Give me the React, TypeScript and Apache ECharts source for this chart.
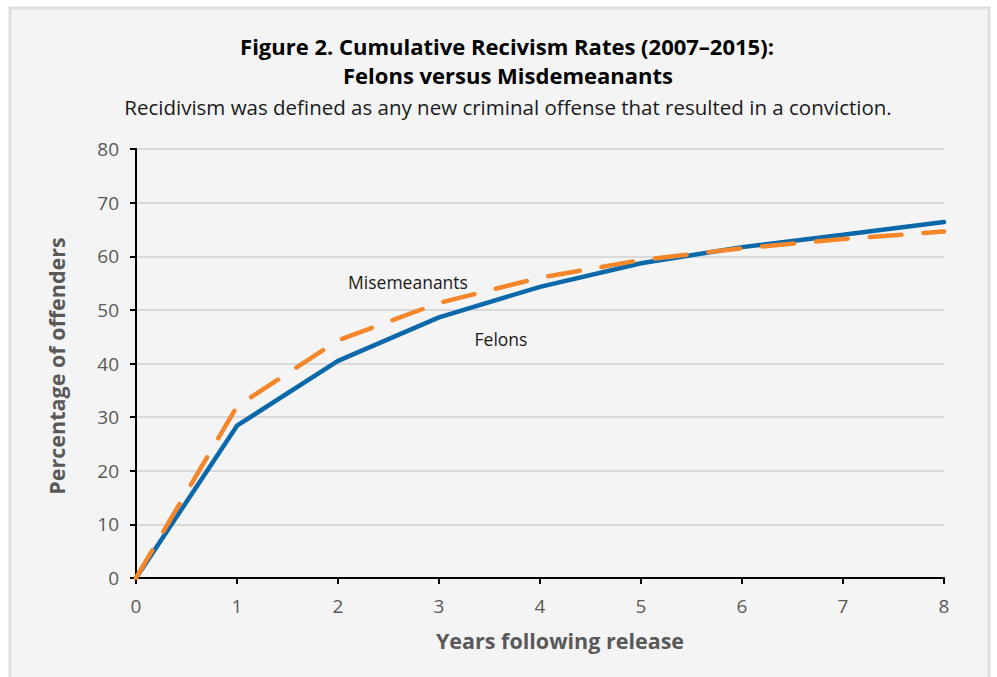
import React, { useEffect, useRef } from "react";
import * as echarts from "echarts";

const years = [0, 1, 2, 3, 4, 5, 6, 7, 8];
const felons = [0, 28.4, 40.5, 48.6, 54.3, 58.7, 61.7, 64.0, 66.4];
const misdemeanants = [0, 32.0, 44.3, 51.3, 56.0, 59.3, 61.5, 63.2, 64.6];

const titleLine1 = "Figure 2. Cumulative Recivism Rates (2007–2015):";
const titleLine2 = "Felons versus Misdemeanants";
const subtitle = "Recidivism was defined as any new criminal offense that resulted in a conviction.";

const FONT = "'Open Sans', 'Noto Sans', sans-serif";

export default function App() {
  const ref = useRef<HTMLDivElement>(null);
  useEffect(() => {
    if (!ref.current) return;
    const chart = echarts.init(ref.current, null, { renderer: "svg" });
    chart.setOption({
      animation: false,
      backgroundColor: "#ffffff",
      graphic: [
        {
          type: "rect",
          z: -10,
          shape: { x: 10, y: 8, width: 979, height: 680 },
          style: { fill: "#f4f4f4", stroke: "#dedede", lineWidth: 3 },
        },
        {
          type: "text",
          x: 507,
          y: 46,
          style: {
            text: titleLine1,
            font: `bold 22px ${FONT}`,
            fill: "#000000",
            align: "center",
            verticalAlign: "middle",
          },
        },
        {
          type: "text",
          x: 508,
          y: 75,
          style: {
            text: titleLine2,
            font: `bold 22px ${FONT}`,
            fill: "#000000",
            align: "center",
            verticalAlign: "middle",
          },
        },
        {
          type: "text",
          x: 508,
          y: 107,
          style: {
            text: subtitle,
            font: `20.5px ${FONT}`,
            fill: "#1a1a1a",
            align: "center",
            verticalAlign: "middle",
          },
        },
        {
          type: "text",
          x: 560,
          y: 640,
          style: {
            text: "Years following release",
            font: `bold 21.5px ${FONT}`,
            fill: "#595959",
            align: "center",
            verticalAlign: "middle",
          },
        },
        {
          type: "text",
          x: 56,
          y: 366,
          rotation: Math.PI / 2,
          style: {
            text: "Percentage of offenders",
            font: `bold 21.5px ${FONT}`,
            fill: "#595959",
            align: "center",
            verticalAlign: "middle",
          },
        },
        {
          type: "text",
          x: 408,
          y: 282,
          style: {
            text: "Misemeanants",
            font: `17.5px ${FONT}`,
            fill: "#1a1a1a",
            align: "center",
            verticalAlign: "middle",
          },
        },
        {
          type: "text",
          x: 501,
          y: 339,
          style: {
            text: "Felons",
            font: `17.5px ${FONT}`,
            fill: "#1a1a1a",
            align: "center",
            verticalAlign: "middle",
          },
        },
      ],
      grid: { left: 136, right: 53, top: 149, bottom: 99 },
      xAxis: {
        type: "value",
        min: 0,
        max: 8,
        interval: 1,
        axisLine: { show: true, onZero: false, lineStyle: { color: "#000000", width: 2 } },
        axisTick: { show: true, length: 6, lineStyle: { color: "#000000", width: 2 } },
        axisLabel: { margin: 18, color: "#595959", fontSize: 19, fontFamily: FONT },
        splitLine: { show: false },
      },
      yAxis: {
        type: "value",
        min: 0,
        max: 80,
        interval: 10,
        axisLine: { show: true, lineStyle: { color: "#000000", width: 2 } },
        axisTick: { show: true, length: 6, lineStyle: { color: "#000000", width: 2 } },
        axisLabel: { margin: 17, color: "#595959", fontSize: 19, fontFamily: FONT },
        splitLine: { show: true, lineStyle: { color: "#d9d9d9", width: 2 } },
      },
      series: [
        {
          name: "Misdemeanants",
          type: "line",
          data: years.map((x, i) => [x, misdemeanants[i]]),
          symbol: "none",
          z: 3,
          lineStyle: { color: "#f5862a", width: 4.5, type: [32, 22], cap: "round" },
        },
        {
          name: "Felons",
          type: "line",
          data: years.map((x, i) => [x, felons[i]]),
          symbol: "none",
          z: 2,
          lineStyle: { color: "#0a68ab", width: 4.5, cap: "round" },
        },
      ],
    });
    return () => chart.dispose();
  }, []);
  return (
    <div
      ref={ref}
      style={{ position: "fixed", left: 0, top: 0, width: 997, height: 677 }}
    />
  );
}
